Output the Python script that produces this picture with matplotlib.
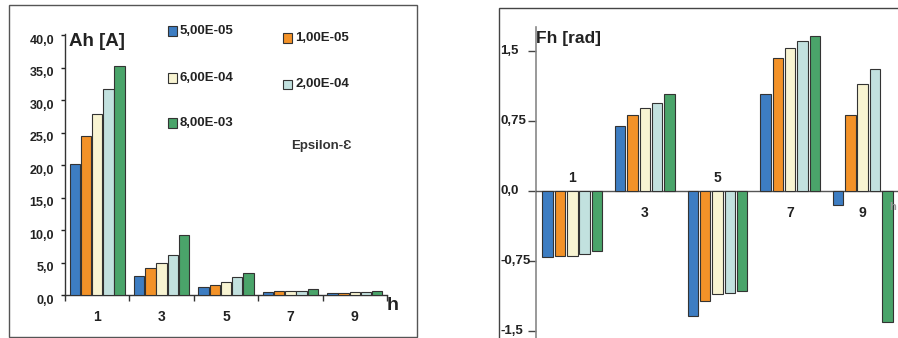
import numpy as np
import matplotlib
matplotlib.use('Agg')
import matplotlib.pyplot as plt
from matplotlib.patches import Rectangle
import matplotlib.transforms as mtransforms

plt.rcParams['font.family'] = ['Liberation Sans', 'DejaVu Sans']
plt.rcParams['font.weight'] = 'bold'

# harmonic orders
harmonics = ['1', '3', '5', '7', '9']

# epsilon values (series)
series = ['5,00E-05', '1,00E-05', '6,00E-04', '2,00E-04', '8,00E-03']
colors = ['#3d7dc2', '#f39228', '#f8f4d2', '#c2e1df', '#4aa46a']

# amplitude Ah [A]
amp_5e5 = [20.2, 3.0, 1.3, 0.45, 0.25]
amp_1e5 = [24.5, 4.1, 1.6, 0.55, 0.35]
amp_6e4 = [27.9, 5.0, 2.0, 0.55, 0.45]
amp_2e4 = [31.7, 6.2, 2.8, 0.65, 0.45]
amp_8e3 = [35.2, 9.3, 3.4, 0.85, 0.55]

# phase Fh [rad]
ph_5e5 = [-0.71, 0.70, -1.34, 1.04, -0.15]
ph_1e5 = [-0.70, 0.81, -1.18, 1.42, 0.81]
ph_6e4 = [-0.70, 0.89, -1.10, 1.53, 1.15]
ph_2e4 = [-0.68, 0.94, -1.09, 1.61, 1.31]
ph_8e3 = [-0.64, 1.04, -1.07, 1.66, -1.40]

amp = [amp_5e5, amp_1e5, amp_6e4, amp_2e4, amp_8e3]
phase = [ph_5e5, ph_1e5, ph_6e4, ph_2e4, ph_8e3]

W, H = 898, 338
fig = plt.figure(figsize=(W / 100, H / 100), dpi=100)


def px(x, y):
    # pixel (top-left origin) -> figure fraction
    return x / W, 1 - y / H


txt_col = '#222222'
edge = '#333333'

# outer frames
fig.add_artist(Rectangle(px(9, 337), 408 / W, 332 / H, transform=fig.transFigure,
                         fill=False, edgecolor='#555555', linewidth=1.0))
fig.add_artist(Rectangle(px(499, 345), 420 / W, 337 / H, transform=fig.transFigure,
                         fill=False, edgecolor='#444444', linewidth=1.0))

# ---------------- left: amplitude ----------------
ax1 = fig.add_axes([65 / W, 43 / H, 322 / W, 261 / H])
x = np.arange(len(harmonics))
pitch = 0.174
for j in range(len(series)):
    ax1.bar(x + (j - 2) * pitch, amp[j], pitch * 0.93, color=colors[j],
            edgecolor=edge, linewidth=0.8, zorder=3)
ax1.set_xlim(-0.5, 4.5)
ax1.set_ylim(0, 40.2)
ax1.spines['top'].set_visible(False)
ax1.spines['right'].set_visible(False)
for s in ['left', 'bottom']:
    ax1.spines[s].set_color('#333333')
    ax1.spines[s].set_linewidth(1.0)
yt1 = np.arange(0, 41, 5)
ax1.set_yticks(yt1)
ax1.set_yticklabels([('%.1f' % v).replace('.', ',') for v in yt1])
ax1.tick_params(axis='y', length=3, width=1, pad=5, labelsize=9, colors=txt_col)
ax1.set_xticks(x)
ax1.set_xticklabels(harmonics)
ax1.tick_params(axis='x', length=0, pad=11, labelsize=10, colors=txt_col)
ax1.set_xticks(np.arange(-0.5, 5, 1), minor=True)
ax1.tick_params(axis='x', which='minor', length=4, width=1, color='#333333')
off = mtransforms.ScaledTranslation(0, -3 / 72, fig.dpi_scale_trans)
for lab in ax1.get_yticklabels():
    lab.set_transform(lab.get_transform() + off)
ax1.patch.set_visible(False)

fig.text(*px(69, 42), 'Ah [A]', fontsize=13.5, fontweight='bold', color=txt_col,
         ha='left', va='center')
fig.text(*px(387, 306), 'h', fontsize=14, fontweight='bold', color=txt_col,
         ha='left', va='center')

# legend
leg_pos = [(168, 31), (283, 38), (168, 78), (283, 84), (168, 123)]
for (lx, ly), name, c in zip(leg_pos, series, colors):
    fig.add_artist(Rectangle(px(lx, ly + 4.5), 8.5 / W, 9 / H, transform=fig.transFigure,
                             facecolor=c, edgecolor=edge, linewidth=0.8))
    fig.text(*px(lx + 12, ly), name, fontsize=9.5, fontweight='bold', color=txt_col,
             ha='left', va='center')
fig.text(*px(291, 146), 'Epsilon-\u0190', fontsize=9.5, fontweight='bold', color='#333333',
         ha='left', va='center')

# ---------------- right: phase ----------------
ax2 = fig.add_axes([536 / W, 0, 363 / W, 311.3 / H])
pitch2 = 0.17
for j in range(len(series)):
    ax2.bar(x + (j - 2) * pitch2, phase[j], pitch2 * 0.85, color=colors[j],
            edgecolor=edge, linewidth=0.8, zorder=3)
ax2.set_xlim(-0.5, 4.5)
ax2.set_ylim(-1.575, 1.76)
ax2.spines['top'].set_visible(False)
ax2.spines['right'].set_visible(False)
ax2.spines['left'].set_color('#888888')
ax2.spines['left'].set_linewidth(1.2)
ax2.spines['bottom'].set_position(('data', 0))
ax2.spines['bottom'].set_color('#555555')
ax2.spines['bottom'].set_linewidth(1.0)
yt = [1.5, 0.75, 0.0, -0.75, -1.5]
ylabels = ['1,5', '0,75', '0,0', '-0,75', '-1,5']
ax2.set_yticks(yt)
ax2.set_yticklabels([])
ax2.tick_params(axis='y', length=6, width=1, color='#444444')
for v, lab in zip(yt, ylabels):
    ax2.text(-0.099, v, lab, transform=ax2.get_yaxis_transform(), ha='left', va='center',
             fontsize=9.5, fontweight='bold', color=txt_col)
ax2.set_xticks([])
# category labels sit on the side opposite to the bulk of the group
for i, lab in enumerate(harmonics):
    grp = sum(p[i] for p in phase)
    dy = 9.5 if grp < 0 else -16
    ax2.annotate(lab, (x[i], 0), xytext=(0, dy), textcoords='offset points',
                 ha='center', va='center', fontsize=10, fontweight='bold', color=txt_col)
ax2.patch.set_visible(False)

fig.text(*px(536, 38), 'Fh [rad]', fontsize=12.5, fontweight='bold', color=txt_col,
         ha='left', va='center')
fig.text(*px(889.5, 207), 'h', fontsize=8, fontweight='bold', color='#999999',
         ha='left', va='center')

plt.savefig('out.png', dpi=100)
